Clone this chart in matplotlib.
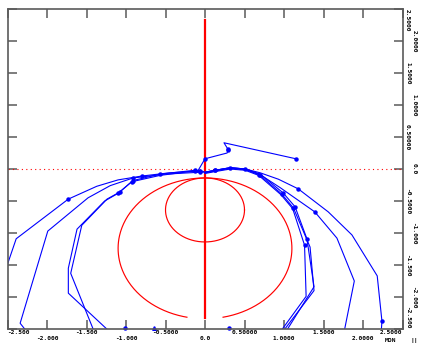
import numpy as np
import matplotlib
matplotlib.use("Agg")
import matplotlib.pyplot as plt
import matplotlib.transforms as mtransforms

# blue trajectories (data coordinates)
a_x = [-0.06, -0.45, -0.80, -1.10, -1.37, -1.73, -2.39, -2.60]
a_y = [-0.03, -0.06, -0.11, -0.17, -0.27, -0.47, -1.09, -1.85]
b_x = [-0.06, -0.50, -0.91, -1.20, -1.48, -1.99, -2.34, -2.25]
b_y = [-0.05, -0.08, -0.14, -0.26, -0.45, -0.97, -2.41, -2.55]
c_x = [-0.02, -0.13, -0.57, -0.91, -1.08, -1.24, -1.56, -1.70, -1.40]
c_y = [-0.04, -0.02, -0.08, -0.18, -0.36, -0.47, -0.88, -1.63, -2.55]
d_x = [-0.02, -0.13, -0.57, -0.93, -1.10, -1.27, -1.62, -1.73, -1.73, -1.20]
d_y = [-0.05, -0.03, -0.10, -0.20, -0.38, -0.50, -0.94, -1.55, -1.94, -2.55]
e_x = [0.0, 0.13, 0.32, 0.51, 0.70, 0.93, 1.18, 1.56, 1.86, 2.18, 2.24, 2.23]
e_y = [-0.05, -0.02, 0.02, 0.0, -0.06, -0.16, -0.31, -0.67, -1.03, -1.67, -2.38, -2.55]
f_x = [0.0, 0.13, 0.32, 0.51, 0.70, 0.95, 1.39, 1.67, 1.89, 1.76]
f_y = [-0.05, -0.02, 0.02, 0.0, -0.09, -0.29, -0.67, -1.08, -1.75, -2.55]
g_x = [0.0, 0.13, 0.32, 0.51, 0.70, 0.99, 1.14, 1.29, 1.38, 1.02]
g_y = [-0.05, -0.02, 0.02, 0.0, -0.08, -0.375, -0.59, -1.09, -1.84, -2.55]
h_x = [0.0, 0.13, 0.32, 0.51, 0.69, 0.97, 1.12, 1.33, 1.38, 0.98]
h_y = [-0.06, -0.03, 0.01, -0.01, -0.09, -0.39, -0.61, -1.22, -1.90, -2.55]
i_x = [0.0, 0.13, 0.32, 0.51, 0.68, 0.96, 1.11, 1.26, 1.28, 0.95]
i_y = [-0.07, -0.04, 0.0, -0.02, -0.10, -0.40, -0.62, -1.19, -1.99, -2.55]
j_x = [-0.10, 0.0, 0.28, 0.29, 0.29, 0.24, 1.15]
j_y = [-0.05, 0.16, 0.25, 0.29, 0.31, 0.41, 0.16]

curves = [(a_x, a_y, [0, 2, 5]), (b_x, b_y, [0, 2]), (c_x, c_y, [1, 2, 3, 4]),
          (d_x, d_y, [1, 3, 4]), (e_x, e_y, [1, 2, 3, 6, 10]), (f_x, f_y, [1, 4, 6]),
          (g_x, g_y, [5, 6, 7]), (h_x, h_y, [5, 6]), (i_x, i_y, [4, 7]),
          (j_x, j_y, [1, 3, 4, 6])]

# single points sitting on the lower frame
edge_x = [-1.01, -0.65, 0.30]
edge_y = [-2.49, -2.49, -2.49]

# red reference curves
circle_small = (0.0, -0.64, 0.50)
circle_large = (0.0, -1.24, 1.10)
large_gap_deg = 12
vline_y = [2.33, -2.33]

ticks = [-2.5, -2.0, -1.5, -1.0, -0.5, 0.0, 0.5, 1.0, 1.5, 2.0, 2.5]
x_labels = ["-2.500", "-2.000", "-1.500", "-1.000", "-0.5000", "0.0",
            "0.50000", "1.0000", "1.5000", "2.0000", "2.5000"]
y_labels = ["-2.500", "-2.000", "-1.500", "-1.000", "-0.5000", "0.0",
            "0.50000", "1.0000", "1.5000", "2.0000", "2.5000"]

fig = plt.figure(figsize=(4.22, 3.44), dpi=100)
ax = fig.add_axes([7.5 / 422, 15 / 344, 395 / 422, 320 / 344])
ax.set_xlim(-2.5, 2.5)
ax.set_ylim(-2.5, 2.5)

blue = '#0000ff'
red = '#ff0000'
frame = '#5a5a5a'

# red: dotted zero line, vertical line, circles
ax.plot([-2.5, 2.5], [0, 0], color=red, lw=0.8, ls=(0, (1, 3)))
ax.plot([0, 0], vline_y, color=red, lw=1.6)
t = np.linspace(0, 2 * np.pi, 300)
cx, cy, r = circle_small
ax.plot(cx + r * np.cos(t), cy + r * np.sin(t), color=red, lw=0.85)
cx, cy, r = circle_large
t2 = np.radians(np.linspace(-90 + large_gap_deg, 270 - large_gap_deg, 400))
ax.plot(cx + r * np.cos(t2), cy + r * np.sin(t2), color=red, lw=0.85)

for xs, ys, marks in curves:
    ax.plot(xs, ys, color=blue, lw=0.8, marker='o', ms=2.2, markevery=marks)
ax.plot(edge_x[0], edge_y[0], 'o', color=blue, ms=2.2, clip_on=False)
ax.plot(edge_x[1], edge_y[1], '^', color=blue, ms=2.6, clip_on=False)
ax.plot(edge_x[2], edge_y[2], 'o', color=blue, ms=2.2, clip_on=False)

for s in ax.spines.values():
    s.set_color(frame)
    s.set_linewidth(1.2)
ax.set_xticks(ticks)
ax.set_yticks(ticks)
ax.tick_params(direction='in', length=6.5, width=1.1, color=frame,
               top=True, right=True, labelbottom=False, labelleft=False)

mono = dict(family='DejaVu Sans Mono', weight='bold', fontsize=4.4)

# bottom labels, two staggered rows
tb = mtransforms.blended_transform_factory(ax.transData, fig.transFigure)
for k, (v, lab) in enumerate(zip(ticks, x_labels)):
    yy = (344 - 333) / 344 if k % 2 == 0 else (344 - 338.5) / 344
    ha = 'center'
    if k == 0:
        ha = 'left'
    elif k == len(ticks) - 1:
        ha = 'right'
    ax.text(v, yy, lab, transform=tb, ha=ha, va='center', **mono)

# right labels, rotated, two staggered columns
tr = mtransforms.blended_transform_factory(fig.transFigure, ax.transData)
for k, (v, lab) in enumerate(zip(ticks, y_labels)):
    xx = 407.5 / 422 if k % 2 == 0 else 414 / 422
    va = 'center'
    if k == 0:
        va = 'bottom'
    elif k == len(ticks) - 1:
        va = 'top'
    ax.text(xx, v, lab, transform=tr, ha='center', va=va, rotation=270, **mono)

fig.text(391 / 422, 1 - 338 / 344, "MON", ha='center', va='top',
         family='DejaVu Sans Mono', weight='bold', fontsize=4.6)
fig.text(414 / 422, 1 - 338 / 344, "||", ha='center', va='top',
         family='DejaVu Sans Mono', weight='bold', fontsize=4.6)

fig.savefig('out.png', dpi=100)
